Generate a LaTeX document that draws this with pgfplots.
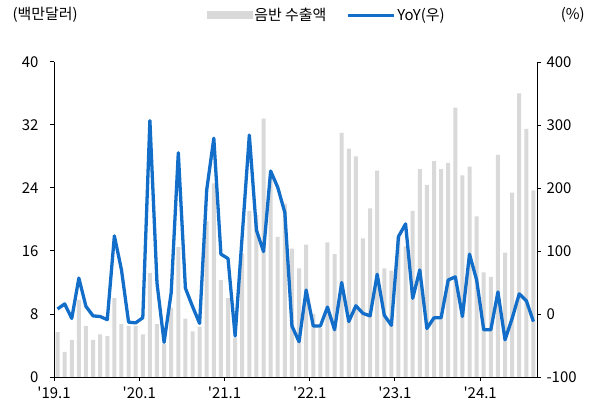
\documentclass[border=0pt]{standalone}
\usepackage{fontspec}
\setmainfont{Noto Sans CJK KR}
\usepackage{pgfplots}
\usepackage{pgfplotstable}
\pgfplotsset{compat=1.18}
\definecolor{barc}{RGB}{217,217,217}
\definecolor{linec}{RGB}{18,110,200}

\pgfplotstableread{
i v y
0 5.7 8
1 3.2 16
2 4.7 -7
3 9.8 57
4 6.5 12
5 4.7 -3
6 5.4 -4
7 5.2 -9
8 10.0 124
9 6.7 70
10 6.5 -13
11 6.5 -14
12 5.4 -6
13 13.2 307
14 6.7 49
15 4.2 -45
16 8.8 34
17 16.5 256
18 7.4 41
19 5.8 12
20 6.4 -15
21 19.8 197
22 24.6 279
23 12.3 95
24 10.0 88
25 5.0 -35
26 15.6 125
27 21.1 284
28 20.6 133
29 32.8 99
30 25.5 227
31 17.8 201
32 22.0 161
33 16.3 -19
34 13.8 -44
35 16.8 38
36 8.0 -19
37 6.2 -19
38 17.1 11
39 15.6 -25
40 31.0 50
41 29.0 -12
42 28.0 13
43 17.6 1
44 21.4 -3
45 26.2 63
46 13.8 -2
47 13.5 -18
48 17.8 123
49 16.6 143
50 21.1 25
51 26.4 70
52 24.4 -23
53 27.4 -6
54 26.4 -6
55 27.2 54
56 34.2 59
57 25.6 -4
58 26.7 95
59 20.4 54
60 13.3 -25
61 12.7 -25
62 28.2 35
63 15.8 -41
64 23.4 -7
65 36.0 32
66 31.5 21
67 23.7 -12
}\data

\begin{document}
\begin{tikzpicture}[font=\fontsize{15}{18}\selectfont]
\path[use as bounding box] (0,0) rectangle (595bp,409bp);
\pgfplotsset{
  common/.style={
    at={(54bp,32bp)}, anchor=south west, scale only axis,
    width=483bp, height=315bp,
    xmin=-0.5, xmax=67.5,
    /pgf/number format/assume math mode=true,
    tick align=outside, major tick length=4bp,
    tick style={black, line width=1pt},
    axis line style={black, line width=1pt},
    ticklabel style={font=\fontsize{15}{18}\selectfont},
  }
}
\begin{axis}[common,
  ymin=0, ymax=40, ytick={0,8,...,40},
  axis y line*=left, axis x line*=bottom,
  xtick={-0.5,11.5,23.5,35.5,47.5,59.5},
  xticklabels={\textquotesingle19.1,\textquotesingle20.1,\textquotesingle21.1,\textquotesingle22.1,\textquotesingle23.1,\textquotesingle24.1},
  xticklabel style={yshift=-2bp},
  yticklabel style={xshift=-8bp},
  clip=false,
]
\addplot[ybar, bar width=4bp, fill=barc, draw=none] table[x=i, y=v] {\data};
\node[anchor=west] at (rel axis cs:-0.093,1.149) {(백만달러)};
\node[anchor=east] at (rel axis cs:1.106,1.149) {(\%)};
\end{axis}
\begin{axis}[common,
  ymin=-100, ymax=400, ytick={-100,0,...,400},
  axis y line*=right, axis x line=none,
  yticklabel style={xshift=2bp},
  legend style={at={(rel axis cs:0.31,1.149)}, anchor=west, draw=none, fill=none,
    legend columns=2, /tikz/every even column/.append style={column sep=18bp},
    font=\fontsize{15}{18}\selectfont},
  legend cell align=left,
]
\addlegendimage{legend image code/.code={\fill[barc] (0bp,-3.5bp) rectangle (45bp,3.5bp);}}
\addlegendentry{음반 수출액}
\addlegendimage{legend image code/.code={\draw[linec, line width=3pt] (0bp,0bp) -- (46bp,0bp);}}
\addlegendentry{YoY(우)}
\addplot[linec, line width=3.3pt, line join=round, mark=none] table[x=i, y=y] {\data};
\end{axis}
\end{tikzpicture}
\end{document}
